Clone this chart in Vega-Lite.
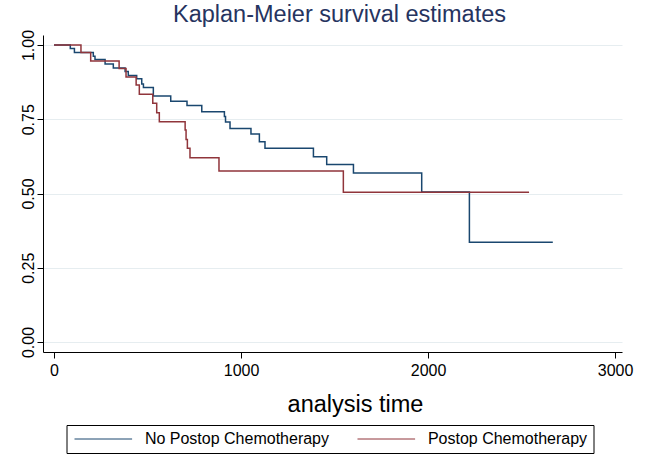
{
  "$schema": "https://vega.github.io/schema/vega-lite/v6.json",
  "width": 579,
  "height": 317,
  "autosize": {"type": "none"},
  "padding": {"left": 43, "top": 35, "right": 26, "bottom": 104},
  "background": "white",
  "config": {"view": {"stroke": null}, "font": "Liberation Sans"},
  "title": {"text": "Kaplan-Meier survival estimates", "fontSize": 23.5, "fontWeight": "normal", "color": "#26345f", "offset": 3, "anchor": "middle", "dx": 7, "font": "Liberation Sans"},
  "data": {"values": [
    {"group": "No Postop Chemotherapy", "time": 0, "survival": 1.0},
    {"group": "No Postop Chemotherapy", "time": 87, "survival": 0.988},
    {"group": "No Postop Chemotherapy", "time": 109, "survival": 0.975},
    {"group": "No Postop Chemotherapy", "time": 210, "survival": 0.962},
    {"group": "No Postop Chemotherapy", "time": 219, "survival": 0.951},
    {"group": "No Postop Chemotherapy", "time": 273, "survival": 0.936},
    {"group": "No Postop Chemotherapy", "time": 317, "survival": 0.923},
    {"group": "No Postop Chemotherapy", "time": 380, "survival": 0.911},
    {"group": "No Postop Chemotherapy", "time": 397, "survival": 0.897},
    {"group": "No Postop Chemotherapy", "time": 442, "survival": 0.886},
    {"group": "No Postop Chemotherapy", "time": 469, "survival": 0.869},
    {"group": "No Postop Chemotherapy", "time": 478, "survival": 0.857},
    {"group": "No Postop Chemotherapy", "time": 531, "survival": 0.828},
    {"group": "No Postop Chemotherapy", "time": 624, "survival": 0.811},
    {"group": "No Postop Chemotherapy", "time": 711, "survival": 0.796},
    {"group": "No Postop Chemotherapy", "time": 790, "survival": 0.775},
    {"group": "No Postop Chemotherapy", "time": 911, "survival": 0.759},
    {"group": "No Postop Chemotherapy", "time": 917, "survival": 0.741},
    {"group": "No Postop Chemotherapy", "time": 941, "survival": 0.719},
    {"group": "No Postop Chemotherapy", "time": 1053, "survival": 0.700},
    {"group": "No Postop Chemotherapy", "time": 1098, "survival": 0.674},
    {"group": "No Postop Chemotherapy", "time": 1128, "survival": 0.652},
    {"group": "No Postop Chemotherapy", "time": 1387, "survival": 0.624},
    {"group": "No Postop Chemotherapy", "time": 1458, "survival": 0.598},
    {"group": "No Postop Chemotherapy", "time": 1601, "survival": 0.569},
    {"group": "No Postop Chemotherapy", "time": 1966, "survival": 0.505},
    {"group": "No Postop Chemotherapy", "time": 2221, "survival": 0.336},
    {"group": "No Postop Chemotherapy", "time": 2667, "survival": 0.336},
    {"group": "Postop Chemotherapy", "time": 0, "survival": 1.0},
    {"group": "Postop Chemotherapy", "time": 144, "survival": 0.975},
    {"group": "Postop Chemotherapy", "time": 196, "survival": 0.946},
    {"group": "Postop Chemotherapy", "time": 348, "survival": 0.921},
    {"group": "Postop Chemotherapy", "time": 385, "survival": 0.892},
    {"group": "Postop Chemotherapy", "time": 439, "survival": 0.865},
    {"group": "Postop Chemotherapy", "time": 456, "survival": 0.834},
    {"group": "Postop Chemotherapy", "time": 528, "survival": 0.804},
    {"group": "Postop Chemotherapy", "time": 549, "survival": 0.772},
    {"group": "Postop Chemotherapy", "time": 563, "survival": 0.742},
    {"group": "Postop Chemotherapy", "time": 701, "survival": 0.714},
    {"group": "Postop Chemotherapy", "time": 706, "survival": 0.682},
    {"group": "Postop Chemotherapy", "time": 713, "survival": 0.652},
    {"group": "Postop Chemotherapy", "time": 727, "survival": 0.620},
    {"group": "Postop Chemotherapy", "time": 882, "survival": 0.576},
    {"group": "Postop Chemotherapy", "time": 1547, "survival": 0.504},
    {"group": "Postop Chemotherapy", "time": 2540, "survival": 0.504}
  ]},
  "mark": {"type": "line", "interpolate": "step-after", "strokeWidth": 1.5},
  "encoding": {
    "x": {
      "field": "time", "type": "quantitative",
      "scale": {"domain": [-59, 3037], "nice": false, "zero": false},
      "axis": {"values": [0, 1000, 2000, 3000], "format": "d", "title": "analysis time", "grid": false,
        "domainColor": "black", "tickColor": "black", "tickSize": 6,
        "labelFontSize": 16, "labelColor": "black", "labelPadding": 4, "labelFlush": false,
        "titleFontSize": 23.5, "titleFontWeight": "normal", "titleColor": "black", "titlePadding": 14,
        "titleX": 312, "titleAnchor": "middle", "titleAlign": "center"}
    },
    "y": {
      "field": "survival", "type": "quantitative",
      "scale": {"domain": [-0.0337, 1.0337], "nice": false, "zero": false},
      "axis": {"values": [0, 0.25, 0.5, 0.75, 1], "format": ".2f", "title": null,
        "grid": true, "gridColor": "#e6edf0", "gridWidth": 1,
        "domainColor": "black", "tickColor": "black", "tickSize": 6,
        "labelAngle": -90, "labelAlign": "center", "labelBaseline": "bottom", "labelPadding": 1,
        "labelFontSize": 16, "labelColor": "black", "labelFlush": false}
    },
    "color": {
      "field": "group", "type": "nominal",
      "scale": {"domain": ["No Postop Chemotherapy", "Postop Chemotherapy"], "range": ["#1a476f", "#90353b"]},
      "legend": {"orient": "none", "legendX": 23.5, "legendY": 390, "direction": "horizontal", "columns": 2,
        "title": null, "symbolType": "M-4.8,0H4.8", "symbolSize": 144, "symbolStrokeWidth": 1,
        "symbolOffset": 22.8, "symbolFillColor": "transparent",
        "labelFontSize": 16, "labelColor": "black", "labelOffset": 33.6, "labelLimit": 400,
        "columnPadding": 26, "padding": 6, "strokeColor": "black", "fillColor": "white"}
    }
  }
}
